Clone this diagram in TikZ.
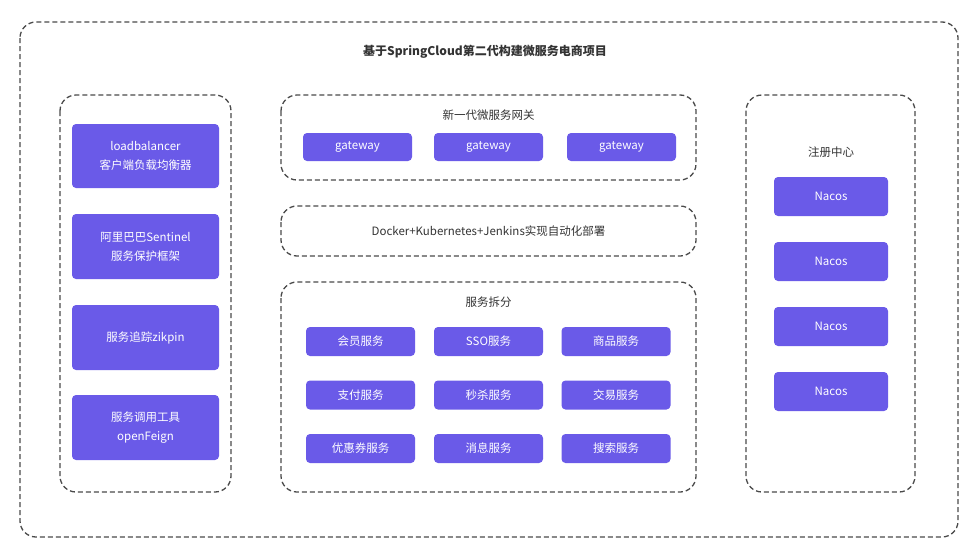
\documentclass[tikz,border=0pt]{standalone}
\usepackage{fontspec}
\usepackage{xcolor}
\usetikzlibrary{positioning}
\setmainfont{Noto Sans CJK SC}
\definecolor{ink}{HTML}{4A4A4A}
\definecolor{btnbg}{HTML}{6A5AE8}
\definecolor{txt}{HTML}{333333}

\tikzset{
  frame/.style={draw=ink,line width=1.3pt,dash pattern=on 5pt off 3pt,rounded corners=16pt},
  btn/.style={fill=btnbg,rounded corners=4pt,text=white,align=center,
              font=\fontsize{11.5}{19}\selectfont,inner sep=0pt},
  title/.style={text=txt,font=\fontsize{11.5}{14}\selectfont}
}

\begin{document}
\begin{tikzpicture}[x=1pt,y=-1pt]
  \useasboundingbox (0,0) rectangle (969,549);
  % outer frame and title
  \draw[frame] (20,22) rectangle (958,537);
  \node[title,font=\fontsize{12}{14}\selectfont\bfseries] (top) at (485,52)
    {基于SpringCloud第二代构建微服务电商项目};

  % left column
  \draw[frame] (60,95) rectangle (231,492);
  \node[btn,minimum width=147pt,minimum height=64pt] (lb) at (145.5,156)
    {loadbalancer\\客户端负载均衡器};
  \node[btn,minimum width=147pt,minimum height=65pt] (sen) at (145.5,246.5)
    {阿里巴巴Sentinel\\服务保护框架};
  \node[btn,minimum width=147pt,minimum height=65pt] (zip) at (145.5,337.5)
    {服务追踪zikpin};
  \node[btn,minimum width=147pt,minimum height=65pt] (feign) at (145.5,427.5)
    {服务调用工具\\openFeign};

  % gateway
  \draw[frame] (281,95) rectangle (696,180);
  \node[title] (gwt) at (488.5,115) {新一代微服务网关};
  \foreach \x/\n in {357.5/gw1,488.5/gw2,621.5/gw3}
    \node[btn,minimum width=109pt,minimum height=28pt] (\n) at (\x,147) {gateway};

  % devops
  \draw[frame] (281,206) rectangle (696,256);
  \node[title] (ops) at (488.5,231) {Docker+Kubernetes+Jenkins实现自动化部署};

  % services
  \draw[frame] (281,282) rectangle (696,492);
  \node[title] (svt) at (488.5,302) {服务拆分};
  \foreach \x/\y/\t/\n in {360.5/341.5/会员服务/s1, 488.5/341.5/SSO服务/s2, 616/341.5/商品服务/s3,
                           360.5/395/支付服务/s4, 488.5/395/秒杀服务/s5, 616/395/交易服务/s6,
                           360.5/448.5/优惠券服务/s7, 488.5/448.5/消息服务/s8, 616/448.5/搜索服务/s9}
    \node[btn,minimum width=109pt,minimum height=29pt] (\n) at (\x,\y) {\t};

  % registry
  \draw[frame] (746,95) rectangle (915,492);
  \node[title] (reg) at (831,152) {注册中心};
  \foreach \y/\n in {196.5/n1,261.5/n2,326.5/n3,391.5/n4}
    \node[btn,minimum width=114pt,minimum height=39pt] (\n) at (831,\y) {Nacos};
\end{tikzpicture}
\end{document}
